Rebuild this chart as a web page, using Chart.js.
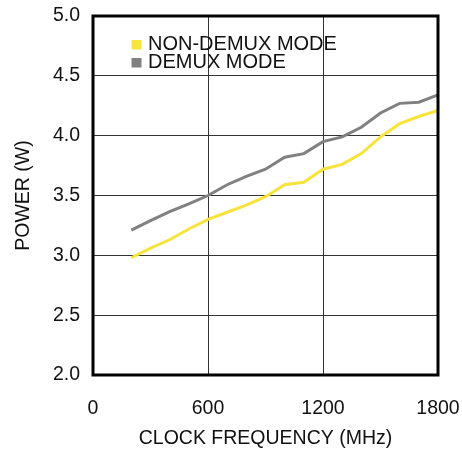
<!DOCTYPE html>
<html><head><meta charset="utf-8">
<script src="https://cdn.jsdelivr.net/npm/chart.js@4/dist/chart.umd.min.js"></script>
<style>html,body{margin:0;padding:0;background:#fff}#wrap{width:462px;height:450px}</style>
</head><body><div id="wrap"><canvas id="c" width="462" height="450"></canvas></div>
<script>
const freqMHz = [200,300,400,500,600,700,800,900,1000,1100,1200,1300,1400,1500,1600,1700,1800];
const nonDemux = [2.98,3.06,3.13,3.22,3.30,3.36,3.42,3.49,3.59,3.61,3.72,3.76,3.85,3.99,4.10,4.16,4.21];
const demux    = [3.21,3.29,3.365,3.43,3.50,3.59,3.66,3.72,3.82,3.85,3.95,3.99,4.07,4.19,4.27,4.28,4.34];
const seriesNames = ["NON-DEMUX MODE","DEMUX MODE"];
const seriesColors = ["#F7E33B","#808080"];
const xTitle = "CLOCK FREQUENCY (MHz)";
const yTitle = "POWER (W)";

const FONT = "'Liberation Sans', Arial, sans-serif";

const frameLegend = {
  id:'frameLegend',
  afterDatasetsDraw(chart){
    const {ctx, chartArea:a} = chart;
    ctx.save();
    ctx.strokeStyle = '#000';
    ctx.lineWidth = 3;
    ctx.strokeRect(a.left, a.top, a.right-a.left, a.bottom-a.top);
    ctx.font = "20px " + FONT;
    ctx.textBaseline = 'alphabetic';
    chart.data.datasets.forEach((ds,i)=>{
      const y = a.top + 33.5 + i*18;
      ctx.fillStyle = ds.borderColor;
      ctx.fillRect(a.left + 38.5, y - 9.5, 10, 9.5);
      ctx.fillStyle = '#111';
      ctx.fillText(ds.label, a.left + 55, y);
    });
    ctx.restore();
  }
};

new Chart(document.getElementById('c'), {
  type:'line',
  data:{
    datasets:[
      {label:seriesNames[0], data:freqMHz.map((f,i)=>({x:f,y:nonDemux[i]})), borderColor:seriesColors[0], borderWidth:3, pointRadius:0, tension:0, fill:false},
      {label:seriesNames[1], data:freqMHz.map((f,i)=>({x:f,y:demux[i]})), borderColor:seriesColors[1], borderWidth:3, pointRadius:0, tension:0, fill:false}
    ]
  },
  options:{
    responsive:false, animation:false,
    layout:{padding:{left:0,right:24,top:16,bottom:0}},
    plugins:{legend:{display:false}, tooltip:{enabled:false}},
    scales:{
      x:{type:'linear', min:0, max:1800,
        afterFit(s){ s.height = 75; s.paddingLeft = 0; s.paddingRight = 0; },
        ticks:{stepSize:600, color:'#111', font:{family:FONT,size:19.5}, padding:22, maxRotation:0, callback:v=>String(v)},
        grid:{color:'#333', lineWidth:1, drawTicks:false},
        border:{display:false},
        title:{display:true, text:xTitle, color:'#111', font:{family:FONT,size:19.5}, padding:{top:0,bottom:0}}
      },
      y:{min:2, max:5,
        afterFit(s){ s.width = 93; s.paddingTop = 0; s.paddingBottom = 0; },
        ticks:{stepSize:0.5, color:'#111', font:{family:FONT,size:19.5}, padding:13, callback:v=>Number(v).toFixed(1)},
        grid:{color:'#333', lineWidth:1, drawTicks:false},
        border:{display:false},
        title:{display:true, text:yTitle, color:'#111', font:{family:FONT,size:19.5}, padding:{top:12,bottom:0}}
      }
    }
  },
  plugins:[frameLegend]
});
</script></body></html>
